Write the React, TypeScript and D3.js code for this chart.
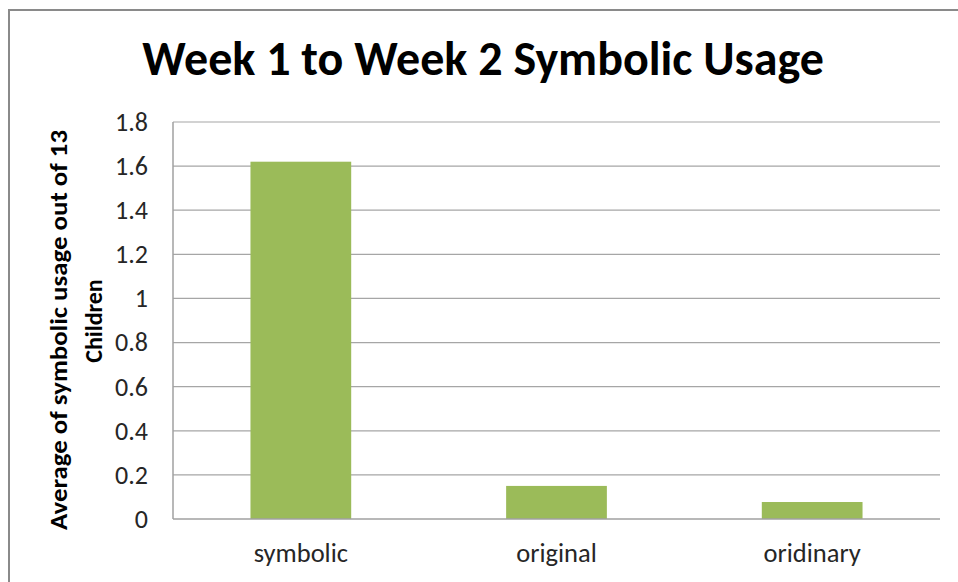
import React from "react";
import * as d3 from "d3";

const categories = ["symbolic", "original", "oridinary"];
const values = [1.62, 0.15, 0.077];
const yTicks = [0, 0.2, 0.4, 0.6, 0.8, 1, 1.2, 1.4, 1.6, 1.8];
const titleText = "Week 1 to Week 2 Symbolic Usage";
const yTitleLines = ["Average of symbolic usage out of 13", "Children"];

const W = 958;
const H = 582;
const FONT = "Carlito, Calibri, Lato, sans-serif";

export default function App() {
  const left = 173;
  const right = 940;
  const top = 122;
  const bottom = 519;
  const x = d3.scaleBand<string>().domain(categories).range([left, right]).paddingInner(0.606).paddingOuter(0.303);
  const y = d3.scaleLinear().domain([0, 1.8]).range([bottom, top]);
  const fmt = (v: number) => (v === 0 ? "0" : d3.format("")(Math.round(v * 10) / 10));

  return (
    <svg width={W} height={H} style={{ position: "absolute", left: 0, top: 0, background: "#fff" }}>
      <rect x={9} y={10} width={W + 20} height={H + 20} fill="#fff" stroke="#8a8a8a" strokeWidth={2} />
      <text x={483} y={75} textAnchor="middle" fontFamily={FONT} fontWeight="bold" fontSize={48} fill="#000">
        {titleText}
      </text>
      {yTicks.map((t) => (
        <g key={t}>
          {t > 0 && (
            <line x1={left} x2={right} y1={y(t)} y2={y(t)} stroke="#a6a6a6" strokeWidth={1.2} />
          )}
          <text x={148} y={y(t)} dy="0.34em" textAnchor="end" fontFamily={FONT} fontSize={26} fill="#262626">
            {fmt(t)}
          </text>
        </g>
      ))}
      {categories.map((c, i) => (
        <rect key={c} x={x(c)} y={y(values[i])} width={x.bandwidth()} height={bottom - y(values[i])} fill="#9bbb59" />
      ))}
      <line x1={left} x2={left} y1={top} y2={bottom} stroke="#a0a0a0" strokeWidth={1.5} />
      <line x1={left} x2={right} y1={bottom} y2={bottom} stroke="#a0a0a0" strokeWidth={1.5} />
      {categories.map((c) => (
        <text key={c} x={(x(c) as number) + x.bandwidth() / 2} y={562} textAnchor="middle" fontFamily={FONT} fontSize={26.5} fill="#262626">
          {c}
        </text>
      ))}
      <text transform="translate(67,330) rotate(-90)" textAnchor="middle" fontFamily={FONT} fontWeight="bold" fontSize={24} fill="#000"
        textLength={400} lengthAdjust="spacingAndGlyphs">
        {yTitleLines[0]}
      </text>
      <text transform="translate(102,321) rotate(-90)" textAnchor="middle" fontFamily={FONT} fontWeight="bold" fontSize={24} fill="#000">
        {yTitleLines[1]}
      </text>
    </svg>
  );
}
